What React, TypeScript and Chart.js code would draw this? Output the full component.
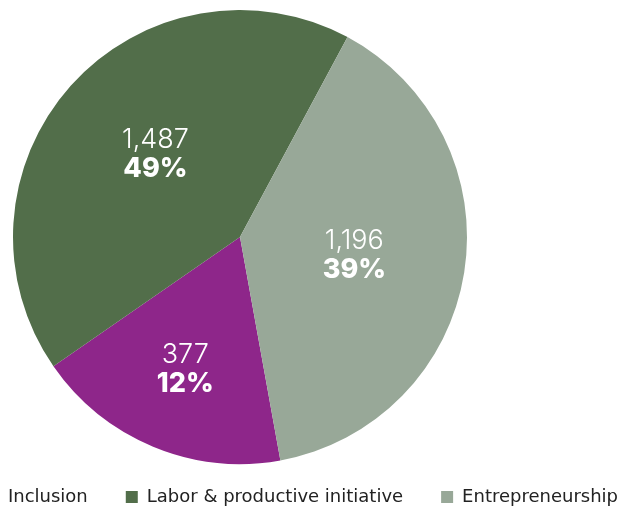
import React, { useEffect, useRef } from "react";
import { Chart, registerables } from "chart.js";

Chart.register(...registerables);

// Legend / slice order (clockwise from the purple slice)
const categories = ["Inclusion", "Labor & productive initiative", "Entrepreneurship"];
// Slice sizes as they appear in the picture (share of the full circle, %)
const sliceShares = [18.2, 42.5, 39.3];
// Texts printed on the slices
const countLabels = ["377", "1,487", "1,196"];
const percentLabels = ["12%", "49%", "39%"];
const sliceColors = ["#8E268A", "#526E4A", "#98A898"];

const CANVAS_W = 801;
const CANVAS_H = 516;
const CANVAS_LEFT = -98;

const sliceLabelPlugin = {
  id: "sliceLabels",
  afterDatasetsDraw(chart: any, _args: any, opts: any) {
    const meta = chart.getDatasetMeta(0);
    const ctx = chart.ctx;
    meta.data.forEach((arc: any, i: number) => {
      const p = arc.getProps(["x", "y", "startAngle", "endAngle", "outerRadius"], true);
      const mid = (p.startAngle + p.endAngle) / 2 + (opts.turn[i] * Math.PI) / 180;
      const r = p.outerRadius * opts.radial[i];
      const cx = p.x + Math.cos(mid) * r;
      const cy = p.y + Math.sin(mid) * r;
      ctx.save();
      ctx.fillStyle = "#ffffff";
      ctx.textAlign = "center";
      ctx.textBaseline = "middle";
      ctx.font = "300 27px Inter";
      ctx.fillText(countLabels[i], cx, cy - 14);
      ctx.font = "800 27px Inter";
      ctx.fillText(percentLabels[i], cx, cy + 15);
      ctx.restore();
    });
  },
};

export default function App() {
  const canvasRef = useRef<HTMLCanvasElement | null>(null);

  useEffect(() => {
    if (!canvasRef.current) return;
    const chart = new Chart(canvasRef.current, {
      type: "pie",
      data: {
        labels: categories,
        datasets: [
          {
            data: sliceShares,
            backgroundColor: sliceColors,
            borderWidth: 0,
            radius: 227,
          } as any,
        ],
      },
      options: {
        responsive: false,
        animation: false,
        rotation: 169.75,
        layout: { padding: { top: 24, left: 0, right: 0, bottom: 0 } },
        plugins: {
          legend: {
            position: "bottom",
            labels: {
              boxWidth: 12,
              boxHeight: 12,
              padding: 38,
              color: "#222222",
              font: { family: "DejaVu Sans", size: 18 },
            },
          },
          title: {
            display: true,
            position: "right",
            text: "",
            font: { size: 10 },
            padding: { top: 113, bottom: 0 },
          },
          tooltip: { enabled: false },
          sliceLabels: { radial: [0.63, 0.522, 0.51], turn: [0, 2.7, 0] },
        } as any,
      },
      plugins: [sliceLabelPlugin],
    });
    return () => chart.destroy();
  }, []);

  return (
    <div
      style={{
        position: "fixed",
        left: 0,
        top: 0,
        width: 631,
        height: 508,
        overflow: "hidden",
        background: "#ffffff",
      }}
    >
      <canvas
        ref={canvasRef}
        width={CANVAS_W}
        height={CANVAS_H}
        style={{ position: "absolute", left: CANVAS_LEFT, top: 0, width: CANVAS_W, height: CANVAS_H }}
      />
    </div>
  );
}
